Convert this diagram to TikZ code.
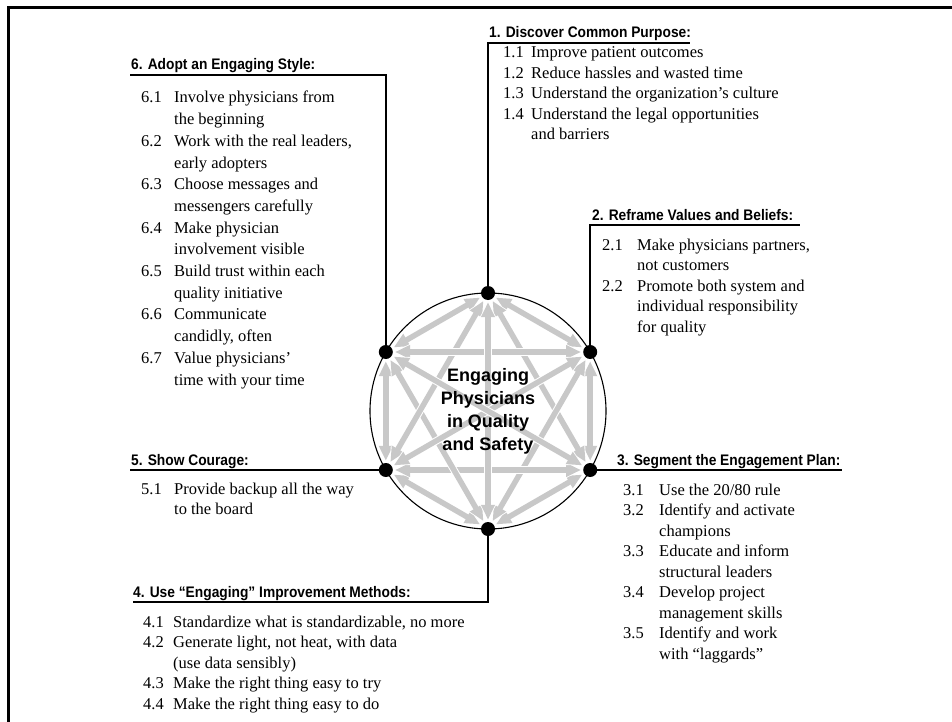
\documentclass[tikz,border=0pt]{standalone}
\usepackage{fontspec}
\setmainfont{Liberation Serif}
\newfontfamily\hdfont[FakeStretch=0.9]{Liberation Sans}
\newfontfamily\ctfont{Liberation Sans}
\usetikzlibrary{arrows.meta}
\pgfdeclarelayer{bg}
\pgfsetlayers{bg,main}
\definecolor{agray}{RGB}{200,200,200}
\begin{document}
\begin{tikzpicture}[x=1pt,y=-1pt,
  conn/.style={line width=2.4pt, draw=black},
  frame/.style={line width=3pt, draw=black},
  dot/.style={circle, fill=black, inner sep=0pt, minimum size=14pt},
  hdr/.style={anchor=base west, inner sep=0pt, font=\hdfont\bfseries\fontsize{15.3}{18}\selectfont},
  items/.style={anchor=base west, inner sep=0pt, font=\fontsize{16.5}{20.5}\selectfont},
  items6/.style={anchor=base west, inner sep=0pt, font=\fontsize{16.5}{21.7}\selectfont},
  ctext/.style={align=center, inner sep=0pt, font=\ctfont\bfseries\fontsize{18}{23}\selectfont},
  garrow/.style={draw=agray, line width=5.5pt, {Triangle[length=15pt,width=13pt]}-{Triangle[length=15pt,width=13pt]}, shorten <=2pt, shorten >=2pt},
  warrow/.style={draw=white, line width=7.5pt, {Triangle[length=17pt,width=16pt]}-{Triangle[length=17pt,width=16pt]}, shorten <=1pt, shorten >=1pt},
]
\useasboundingbox (0,0) rectangle (952,722);

% frame
\coordinate (fa) at (954,8);
\coordinate (fb) at (8,8);
\coordinate (fc) at (8,724);
\draw[frame] (fa) -- (fb) -- (fc);

% hub
\coordinate (c) at (488,411);
\node[dot] (v1) at (488,293) {};
\node[dot] (v2) at (590.2,352) {};
\node[dot] (v3) at (590.2,470) {};
\node[dot] (v4) at (488,529) {};
\node[dot] (v5) at (385.8,470) {};
\node[dot] (v6) at (385.8,352) {};

\begin{pgfonlayer}{bg}
  \foreach \a/\b in {1/2,2/3,3/4,4/5,5/6,6/1,1/3,2/4,3/5,4/6,5/1,6/2,1/4,2/5,3/6}{
    \draw[warrow] (v\a) -- (v\b);
    \draw[garrow] (v\a) -- (v\b);
  }
  \draw[line width=1.1pt] (c) circle[radius=118pt];
  % connectors
  \coordinate (k1) at (488,43);   \coordinate (e1) at (690,43);
  \coordinate (k2) at (590.2,225); \coordinate (e2) at (800,225);
  \coordinate (e3) at (842,470);
  \coordinate (k4) at (488,602);  \coordinate (e4) at (133,602);
  \coordinate (e5) at (130,470);
  \coordinate (k6) at (385.8,75); \coordinate (e6) at (130,75);
  \draw[conn] (v1.center) -- (k1) -- (e1);
  \draw[conn] (v2.center) -- (k2) -- (e2);
  \draw[conn] (v3.center) -- (e3);
  \draw[conn] (v4.center) -- (k4) -- (e4);
  \draw[conn] (v5.center) -- (e5);
  \draw[conn] (v6.center) -- (k6) -- (e6);
\end{pgfonlayer}

\node[ctext] (ct) at (488,411) {Engaging\\Physicians\\in Quality\\and Safety};

% headers
\node[hdr] (h1) at (489,38) {1. Discover Common Purpose:};
\node[hdr] (h2) at (592,220) {2. Reframe Values and Beliefs:};
\node[hdr] (h3) at (617,465) {3. Segment the Engagement Plan:};
\node[hdr] (h4) at (133,597) {4. Use “Engaging” Improvement Methods:};
\node[hdr] (h5) at (131,465) {5. Show Courage:};
\node[hdr] (h6) at (131,70) {6. Adopt an Engaging Style:};

% item lists
\node[items] (g1) at (503,58) {\begin{tabular}[t]{@{}p{28pt}@{}l@{}}
1.1 & Improve patient outcomes\\
1.2 & Reduce hassles and wasted time\\
1.3 & Understand the organization’s culture\\
1.4 & Understand the legal opportunities\\
    & and barriers
\end{tabular}};

\node[items] (g2) at (602,250) {\begin{tabular}[t]{@{}p{35pt}@{}l@{}}
2.1 & Make physicians partners,\\
    & not customers\\
2.2 & Promote both system and\\
    & individual responsibility\\
    & for quality
\end{tabular}};

\node[items] (g3) at (623,495) {\begin{tabular}[t]{@{}p{36pt}@{}l@{}}
3.1 & Use the 20/80 rule\\
3.2 & Identify and activate\\
    & champions\\
3.3 & Educate and inform\\
    & structural leaders\\
3.4 & Develop project\\
    & management skills\\
3.5 & Identify and work\\
    & with “laggards”
\end{tabular}};

\node[items] (g4) at (143,627) {\begin{tabular}[t]{@{}p{30pt}@{}l@{}}
4.1 & Standardize what is standardizable, no more\\
4.2 & Generate light, not heat, with data\\
    & (use data sensibly)\\
4.3 & Make the right thing easy to try\\
4.4 & Make the right thing easy to do
\end{tabular}};

\node[items] (g5) at (141,494) {\begin{tabular}[t]{@{}p{33pt}@{}l@{}}
5.1 & Provide backup all the way\\
    & to the board
\end{tabular}};

\node[items6] (g6) at (141,103) {\begin{tabular}[t]{@{}p{33pt}@{}l@{}}
6.1 & Involve physicians from\\
    & the beginning\\
6.2 & Work with the real leaders,\\
    & early adopters\\
6.3 & Choose messages and\\
    & messengers carefully\\
6.4 & Make physician\\
    & involvement visible\\
6.5 & Build trust within each\\
    & quality initiative\\
6.6 & Communicate\\
    & candidly, often\\
6.7 & Value physicians’\\
    & time with your time
\end{tabular}};
\end{tikzpicture}
\end{document}
